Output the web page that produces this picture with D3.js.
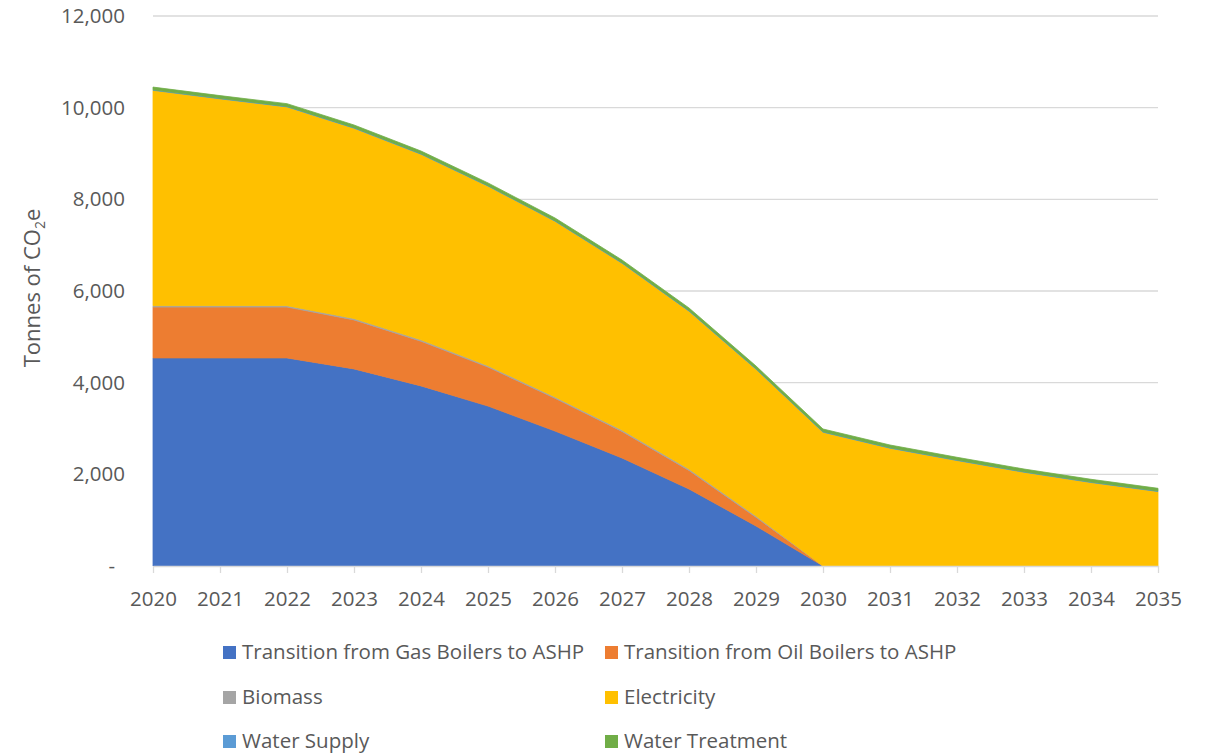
<!DOCTYPE html>
<html>
<head>
<meta charset="utf-8">
<script src="https://cdn.jsdelivr.net/npm/d3@7"></script>
<style>
  body { margin: 0; background: #fff; }
  text { font-family: "Open Sans", "Noto Sans", sans-serif; fill: #595959; }
</style>
</head>
<body>
<div class="canvas"></div>
<script>
// data (tonnes CO2e)
const years = [2020, 2021, 2022, 2023, 2024, 2025, 2026, 2027, 2028, 2029, 2030, 2031, 2032, 2033, 2034, 2035];
const seriesNames = ['Transition from Gas Boilers to ASHP', 'Transition from Oil Boilers to ASHP',
  'Biomass', 'Electricity', 'Water Supply', 'Water Treatment'];
const gasBoilers = [4540, 4540, 4540, 4300, 3930, 3490, 2945, 2357, 1680, 873, 0, 0, 0, 0, 0, 0];
const oilBoilers = [1110, 1110, 1110, 1070, 975, 850, 715, 580, 406, 190, 0, 0, 0, 0, 0, 0];
const biomass = [30, 30, 30, 30, 30, 30, 30, 30, 30, 28, 0, 0, 0, 0, 0, 0];
const electricity = [4699, 4513, 4337, 4152, 4049, 3918, 3833, 3640, 3444, 3203, 2919, 2570, 2302, 2046, 1822, 1625];
const waterSupply = [10, 10, 10, 10, 10, 10, 10, 10, 10, 10, 10, 10, 10, 10, 10, 10];
const waterTreatment = [60, 60, 60, 60, 60, 60, 60, 60, 60, 60, 60, 60, 60, 60, 60, 60];
const yTicks = [0, 2000, 4000, 6000, 8000, 10000, 12000];
const colors = ['#4472c4', '#ed7d31', '#a5a5a5', '#ffc000', '#5b9bd5', '#70ad47'];

const values = [gasBoilers, oilBoilers, biomass, electricity, waterSupply, waterTreatment];
const table = years.map((yr, i) => {
  const row = { year: yr };
  seriesNames.forEach((name, k) => { row[name] = values[k][i]; });
  return row;
});

const svg = d3.select('.canvas')
  .append('svg')
  .attr('width', 1211)
  .attr('height', 756);

/*--------------------------------
  SETUP
--------------------------------*/
const margin = { top: 16, right: 53, bottom: 190, left: 153 };
const graphWidth = 1211 - margin.left - margin.right;
const graphHeight = 756 - margin.top - margin.bottom;

const graph = svg.append('g')
  .attr('transform', `translate(${margin.left}, ${margin.top})`);

const x = d3.scalePoint()
  .domain(years)
  .range([0, graphWidth]);

const y = d3.scaleLinear()
  .domain([0, 12000])
  .range([graphHeight, 0]);

// gridlines
graph.append('g')
  .selectAll('line')
  .data(yTicks.slice(1))
  .enter()
  .append('line')
  .attr('x1', 0)
  .attr('x2', graphWidth)
  .attr('y1', d => y(d))
  .attr('y2', d => y(d))
  .attr('stroke', '#d9d9d9')
  .attr('stroke-width', 1.3);

// stacked areas
const stack = d3.stack().keys(seriesNames);
const layers = stack(table);

const area = d3.area()
  .x(d => x(d.data.year))
  .y0(d => y(d[0]))
  .y1(d => y(d[1]));

graph.append('g')
  .selectAll('path')
  .data(layers)
  .enter()
  .append('path')
  .attr('d', area)
  .attr('fill', (d, i) => colors[i])
  .attr('stroke', (d, i) => colors[i])
  .attr('stroke-width', 0.8);

// x axis
const xAxis = d3.axisBottom(x).tickSize(7).tickPadding(18).tickSizeOuter(0);
const xAxisGroup = graph.append('g')
  .attr('transform', `translate(0, ${graphHeight})`)
  .call(xAxis);
xAxisGroup.select('.domain').attr('stroke', '#d9d9d9').attr('stroke-width', 1.3);
xAxisGroup.selectAll('.tick line').attr('stroke', '#d9d9d9').attr('stroke-width', 1.3);
xAxisGroup.selectAll('text')
  .style('font-size', '20.5px')
  .attr('fill', '#595959');

// y axis
const yAxis = d3.axisLeft(y)
  .tickValues(yTicks)
  .tickSize(0)
  .tickPadding(28)
  .tickFormat(d => (d === 0 ? '-' : d3.format(',')(d)));
const yAxisGroup = graph.append('g').call(yAxis);
yAxisGroup.select('.domain').remove();
yAxisGroup.selectAll('text')
  .style('font-size', '20.5px')
  .attr('fill', '#595959');
yAxisGroup.selectAll('.tick')
  .filter(d => d === 0)
  .select('text')
  .attr('x', -38);

// y axis title
const yTitle = svg.append('text')
  .attr('transform', 'translate(40, 288) rotate(-90)')
  .attr('text-anchor', 'middle')
  .style('font-size', '22px');
yTitle.append('tspan').text('Tonnes of CO');
yTitle.append('tspan').attr('dy', 5).style('font-size', '14px').text('2');
yTitle.append('tspan').attr('dy', -5).text('e');

/*--------------------------------
  LEGEND
--------------------------------*/
const legendCols = [223, 605];
const legendRows = [652, 697, 741];
const legend = svg.append('g');
seriesNames.forEach((name, i) => {
  const lx = legendCols[i % 2];
  const ly = legendRows[Math.floor(i / 2)];
  legend.append('rect')
    .attr('x', lx)
    .attr('y', ly - 6)
    .attr('width', 13)
    .attr('height', 13)
    .attr('fill', colors[i]);
  legend.append('text')
    .attr('x', lx + 19)
    .attr('y', ly)
    .attr('dy', '0.35em')
    .style('font-size', '20.5px')
    .text(name);
});
</script>
</body>
</html>
